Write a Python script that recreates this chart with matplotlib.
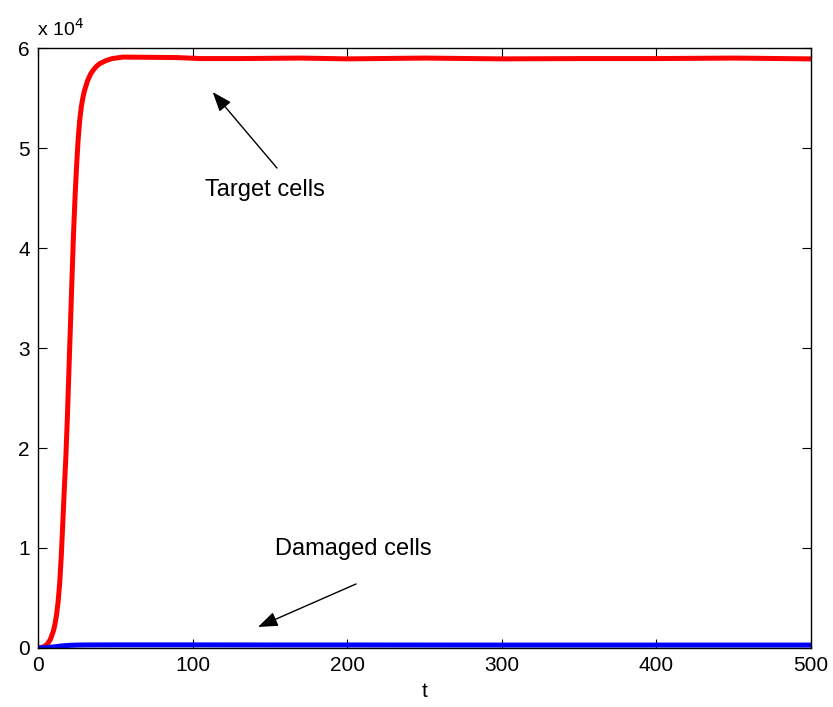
import numpy as np
import matplotlib.pyplot as plt
from matplotlib.ticker import FuncFormatter

plt.rcParams['font.family'] = ['Liberation Sans', 'DejaVu Sans']

# target cells (red)
t_target = [0, 2, 4, 6, 8, 10, 11, 12, 13, 14, 15, 16, 17, 18, 19, 20, 21, 22,
            23, 24, 25, 26, 27, 28, 29, 30, 32, 34, 36, 38, 40, 44, 48, 55, 70,
            90, 105, 130, 170, 200, 250, 300, 350, 400, 450, 500]
target = [0, 40, 150, 380, 850, 1700, 2400, 3300, 4600, 6400, 9000, 12300,
          15800, 19000, 23000, 27700, 32300, 37000, 41500, 45200, 48300, 50900,
          52800, 54100, 55000, 55700, 56700, 57400, 57850, 58200, 58450, 58750,
          58950, 59100, 59080, 59050, 58950, 58950, 59000, 58920, 59000, 58920,
          58950, 58950, 59000, 58920]

# damaged cells (blue)
t_damaged = [0, 5, 10, 15, 20, 25, 30, 50, 100, 150, 200, 300, 400, 500]
damaged = [0, 30, 100, 200, 260, 290, 300, 310, 310, 300, 300, 290, 290, 290]

yticks = [0, 1, 2, 3, 4, 5, 6]
xticks = [0, 100, 200, 300, 400, 500]

fig = plt.figure(figsize=(8.33, 7.07), dpi=100)
ax = fig.add_axes([0.0456, 0.0835, 0.9280, 0.8485])

ax.plot(t_target, target, color='red', lw=3.6, solid_capstyle='round',
        solid_joinstyle='round')
ax.plot(t_damaged, damaged, color='blue', lw=3.6, solid_capstyle='round')

ax.set_xlim(0, 500)
ax.set_ylim(0, 6e4)
ax.set_xticks(xticks)
ax.set_yticks([v * 1e4 for v in yticks])
ax.yaxis.set_major_formatter(FuncFormatter(lambda v, p: f'{v / 1e4:g}'))
ax.tick_params(direction='in', length=6.5, width=0.8, top=True, right=True,
               labelsize=15, pad=6)
for s in ax.spines.values():
    s.set_linewidth(1.0)

ax.set_xlabel('t', fontsize=15, labelpad=5)
fig.text(0.045, 0.949, r'x 10$^4$', fontsize=14, ha='left', va='baseline')

arrow = dict(arrowstyle='-|>,head_length=1.2,head_width=0.45', color='black',
             lw=1.0, shrinkA=0, shrinkB=0)
ax.annotate('', xy=(113, 55600), xytext=(154.6, 48000), arrowprops=arrow)
ax.text(147, 45800, 'Target cells', fontsize=17, ha='center', va='center')
ax.annotate('', xy=(142.3, 2100), xytext=(205.7, 6400), arrowprops=arrow)
ax.text(203.7, 9900, 'Damaged cells', fontsize=17, ha='center', va='center')

plt.savefig('out.png', dpi=100)
